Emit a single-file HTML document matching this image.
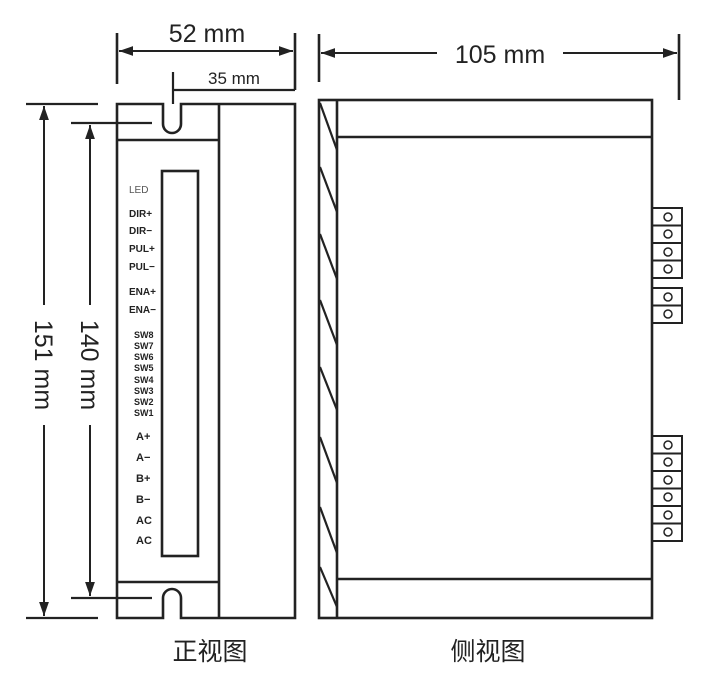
<!DOCTYPE html>
<html><head><meta charset="utf-8"><style>
html,body{margin:0;padding:0;background:#fff;width:705px;height:683px;overflow:hidden}
</style></head><body>
<svg width="705" height="683" viewBox="0 0 705 683" xmlns="http://www.w3.org/2000/svg">
<defs>
<marker id="a" viewBox="0 0 10 10" refX="10" refY="5" markerWidth="7" markerHeight="7" orient="auto-start-reverse"><path d="M0,1.5 L10,5 L0,8.5 z" fill="#222"/></marker>
</defs>
<g stroke="#222" stroke-width="2.6" fill="none">
<!-- front view -->
<path d="M117,104 H163 V124 A9,9 0 0 0 181,124 V104 H295 V618 H181 V598 A9,9 0 0 0 163,598 V618 H117 Z"/>
<line x1="219" y1="104" x2="219" y2="618"/>
<line x1="117" y1="140" x2="219" y2="140"/>
<line x1="117" y1="582" x2="219" y2="582"/>
<rect x="162" y="171" width="36" height="385"/>
<!-- 52 -->
<line x1="117" y1="33" x2="117" y2="84"/>
<line x1="295" y1="33" x2="295" y2="90"/>
<line x1="119" y1="51" x2="293" y2="51" stroke-width="2" marker-start="url(#a)" marker-end="url(#a)"/>
<!-- 35 -->
<line x1="173" y1="72" x2="173" y2="104" stroke-width="2.2"/>
<line x1="173" y1="90" x2="295" y2="90" stroke-width="2.2"/>
<!-- 151 -->
<line x1="26" y1="104" x2="98" y2="104" stroke-width="2.2"/>
<line x1="26" y1="618" x2="98" y2="618" stroke-width="2.2"/>
<line x1="44" y1="305" x2="44" y2="106" stroke-width="2" marker-end="url(#a)"/>
<line x1="44" y1="425" x2="44" y2="616" stroke-width="2" marker-end="url(#a)"/>
<!-- 140 -->
<line x1="71" y1="123" x2="152" y2="123" stroke-width="2.2"/>
<line x1="71" y1="598" x2="152" y2="598" stroke-width="2.2"/>
<line x1="90" y1="305" x2="90" y2="125" stroke-width="2" marker-end="url(#a)"/>
<line x1="90" y1="425" x2="90" y2="596" stroke-width="2" marker-end="url(#a)"/>
<!-- side view -->
<rect x="319" y="100" width="333" height="518"/>
<line x1="337" y1="100" x2="337" y2="618"/>
<line x1="337" y1="137" x2="652" y2="137"/>
<line x1="337" y1="579" x2="652" y2="579"/>
<g stroke-width="2.2">
<line x1="320" y1="103" x2="337" y2="150"/>
<line x1="320" y1="167" x2="337" y2="212"/>
<line x1="320" y1="234" x2="337" y2="279"/>
<line x1="320" y1="300" x2="337" y2="345"/>
<line x1="320" y1="367" x2="337" y2="410"/>
<line x1="320" y1="437" x2="337" y2="483"/>
<line x1="320" y1="507" x2="337" y2="553"/>
<line x1="320" y1="567" x2="337" y2="607"/>
</g>
<!-- connectors -->
<g stroke-width="2">
<rect x="652" y="208" width="30" height="70"/>
<line x1="652" y1="225.5" x2="682" y2="225.5"/><line x1="652" y1="243" x2="682" y2="243"/><line x1="652" y1="260.5" x2="682" y2="260.5"/>
<rect x="652" y="288" width="30" height="35"/>
<line x1="652" y1="305.5" x2="682" y2="305.5"/>
<rect x="652" y="436" width="30" height="105"/>
<line x1="652" y1="453.5" x2="682" y2="453.5"/><line x1="652" y1="471" x2="682" y2="471"/><line x1="652" y1="488.5" x2="682" y2="488.5"/><line x1="652" y1="506" x2="682" y2="506"/><line x1="652" y1="523.5" x2="682" y2="523.5"/>
</g>
<g stroke-width="1.5">
<circle cx="668" cy="217" r="4"/><circle cx="668" cy="234" r="4"/><circle cx="668" cy="252" r="4"/><circle cx="668" cy="269" r="4"/>
<circle cx="668" cy="297" r="4"/><circle cx="668" cy="314" r="4"/>
<circle cx="668" cy="445" r="4"/><circle cx="668" cy="462" r="4"/><circle cx="668" cy="480" r="4"/><circle cx="668" cy="497" r="4"/><circle cx="668" cy="515" r="4"/><circle cx="668" cy="532" r="4"/>
</g>
<!-- 105 -->
<line x1="319" y1="34" x2="319" y2="82"/>
<line x1="679" y1="34" x2="679" y2="100"/>
<line x1="321" y1="53" x2="437" y2="53" stroke-width="2" marker-start="url(#a)"/>
<line x1="563" y1="53" x2="677" y2="53" stroke-width="2" marker-end="url(#a)"/>
</g>
<g font-family="Liberation Sans, sans-serif" fill="#222">
<text x="207" y="42" font-size="25" text-anchor="middle">52 mm</text>
<text x="234" y="84" font-size="17" text-anchor="middle">35 mm</text>
<text x="500" y="63" font-size="25" text-anchor="middle">105 mm</text>
<text transform="translate(35,365) rotate(90)" font-size="25" text-anchor="middle">151 mm</text>
<text transform="translate(81,365) rotate(90)" font-size="25" text-anchor="middle">140 mm</text>
<g font-size="10" font-weight="bold">
<text x="129" y="193" font-weight="normal" fill="#555">LED</text>
<text x="129" y="217">DIR+</text>
<text x="129" y="234">DIR−</text>
<text x="129" y="252">PUL+</text>
<text x="129" y="270">PUL−</text>
<text x="129" y="295">ENA+</text>
<text x="129" y="313">ENA−</text>
</g>
<g font-size="9" font-weight="bold">
<text x="134" y="338">SW8</text><text x="134" y="349">SW7</text><text x="134" y="360">SW6</text><text x="134" y="371">SW5</text><text x="134" y="383">SW4</text><text x="134" y="394">SW3</text><text x="134" y="405">SW2</text><text x="134" y="416">SW1</text>
</g>
<g font-size="11" font-weight="bold">
<text x="136" y="440">A+</text><text x="136" y="461">A−</text><text x="136" y="482">B+</text><text x="136" y="503">B−</text><text x="136" y="524">AC</text><text x="136" y="544">AC</text>
</g>
</g>
<g font-family="Liberation Sans, 'Noto Sans CJK SC', sans-serif" font-size="25" fill="#222" text-anchor="middle">
<text x="210" y="660">正视图</text>
<text x="488" y="660">侧视图</text>
</g>
</svg>
</body></html>
